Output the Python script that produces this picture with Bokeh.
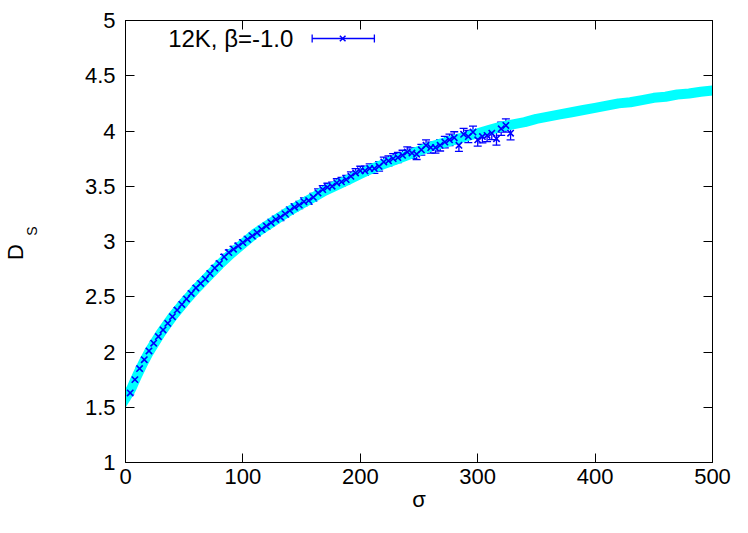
import json
from bokeh.plotting import figure
from bokeh.models import (ColumnDataSource, Whisker, TeeHead, LinearAxis, Label,
                          Range1d, FixedTicker, PrintfTickFormatter, CustomJSTickFormatter)
from bokeh.embed import file_html
from bokeh.resources import INLINE

# measured points: sigma, D_S and its error
sigma = [4, 8, 12, 16, 20, 24, 28, 32, 36, 40,
         44, 48, 52, 56, 60, 64, 68, 72, 76, 80,
         84, 88, 92, 96, 100, 104, 108, 112, 116, 120,
         124, 128, 132, 136, 140, 144, 148, 152, 156, 160,
         164, 168, 172, 176, 180, 184, 188, 192, 196, 200,
         204, 208, 212, 216, 220, 224, 228, 232, 236, 240,
         244, 248, 252, 256, 260, 264, 268, 272, 276, 280,
         284, 288, 292, 296, 300, 304, 308, 312, 316, 320,
         324, 328]
ds = [1.63, 1.75, 1.85, 1.93, 2.01, 2.08, 2.14, 2.20, 2.26, 2.32,
      2.38, 2.43, 2.48, 2.53, 2.58, 2.62, 2.66, 2.71, 2.76, 2.80,
      2.86, 2.90, 2.93, 2.96, 2.99, 3.02, 3.05, 3.08, 3.11, 3.14,
      3.17, 3.20, 3.22, 3.25, 3.28, 3.31, 3.33, 3.36, 3.37, 3.40,
      3.44, 3.47, 3.49, 3.50, 3.53, 3.54, 3.56, 3.59, 3.62, 3.64,
      3.64, 3.66, 3.66, 3.68, 3.72, 3.73, 3.75, 3.76, 3.78, 3.81,
      3.80, 3.79, 3.83, 3.87, 3.85, 3.85, 3.87, 3.90, 3.92, 3.94,
      3.87, 3.97, 3.95, 3.99, 3.92, 3.95, 3.96, 3.98, 3.93, 4.02,
      4.05, 3.98]
ds_err = [0.012, 0.012, 0.013, 0.014, 0.014, 0.015, 0.015, 0.016, 0.016, 0.017,
          0.018, 0.018, 0.019, 0.019, 0.020, 0.021, 0.021, 0.022, 0.022, 0.023,
          0.024, 0.024, 0.025, 0.025, 0.026, 0.027, 0.027, 0.028, 0.028, 0.029,
          0.030, 0.030, 0.031, 0.031, 0.032, 0.033, 0.033, 0.034, 0.034, 0.035,
          0.036, 0.036, 0.037, 0.037, 0.038, 0.039, 0.039, 0.040, 0.040, 0.041,
          0.042, 0.042, 0.043, 0.043, 0.044, 0.045, 0.045, 0.046, 0.046, 0.047,
          0.048, 0.048, 0.049, 0.049, 0.050, 0.051, 0.051, 0.052, 0.052, 0.053,
          0.054, 0.054, 0.055, 0.055, 0.056, 0.057, 0.057, 0.058, 0.058, 0.059,
          0.060, 0.060]

# cyan reference curve
fit_sigma = [-3, 0, 5, 10, 15, 20, 30, 40, 50, 60, 70, 80, 90, 100,
             110, 120, 130, 140, 150, 160, 170, 180, 190, 200,
             210, 220, 230, 240, 250, 260, 270, 280, 290, 300,
             310, 320, 330, 340, 350, 360, 370, 380, 390, 400,
             410, 420, 430, 440, 450, 460, 470, 480, 490, 500, 503]
fit_ds = [1.53, 1.58, 1.67, 1.79, 1.90, 2.00, 2.17, 2.32, 2.45, 2.57, 2.68, 2.79, 2.89, 2.98,
          3.07, 3.14, 3.21, 3.28, 3.34, 3.40, 3.46, 3.51, 3.56, 3.61,
          3.66, 3.70, 3.74, 3.78, 3.82, 3.86, 3.89, 3.92, 3.95, 3.98,
          4.01, 4.04, 4.06, 4.08, 4.11, 4.13, 4.15, 4.17, 4.19, 4.21,
          4.23, 4.25, 4.26, 4.28, 4.30, 4.31, 4.33, 4.34, 4.355, 4.367, 4.37]

x_ticks = [0, 100, 200, 300, 400, 500]
y_ticks = [1, 1.5, 2, 2.5, 3, 3.5, 4, 4.5, 5]
series_label = "12K, β=-1.0"
x_title = "σ"

FONT = "Liberation Sans"
BLUE = "#0000ff"
CYAN = "#00ffff"

p = figure(width=732, height=517, x_range=Range1d(0, 500), y_range=Range1d(1, 5),
           output_backend="svg", toolbar_location=None,
           min_border_left=122, min_border_right=20, min_border_top=20, min_border_bottom=55)
p.background_fill_color = "white"
p.border_fill_color = "white"
p.outline_line_color = "black"
p.outline_line_width = 1
p.grid.visible = False

p.xaxis.ticker = FixedTicker(ticks=x_ticks)
p.yaxis.ticker = FixedTicker(ticks=y_ticks)
p.yaxis.formatter = PrintfTickFormatter(format="%g")
p.xaxis.major_label_standoff = 6
p.yaxis.major_label_standoff = 10

for ax in [p.xaxis[0], p.yaxis[0]]:
    ax.major_tick_in = 9
    ax.major_tick_out = 0
    ax.minor_tick_line_color = None
    ax.axis_line_color = "black"
    ax.major_tick_line_color = "black"
    ax.major_label_text_font = FONT
    ax.major_label_text_font_size = "22px"
    ax.major_label_text_color = "black"

p.xaxis.axis_label = x_title
p.xaxis.axis_label_standoff = 0
p.xaxis.axis_label_text_font = FONT
p.xaxis.axis_label_text_font_size = "22px"
p.xaxis.axis_label_text_font_style = "normal"
p.xaxis.axis_label_text_color = "black"

# mirrored ticks on top and right
top = LinearAxis(ticker=FixedTicker(ticks=x_ticks))
right = LinearAxis(ticker=FixedTicker(ticks=y_ticks))
for ax in [top, right]:
    ax.major_tick_in = 9
    ax.major_tick_out = 0
    ax.minor_tick_line_color = None
    ax.major_label_text_font_size = "1px"
    ax.major_label_text_color = None
    ax.major_label_standoff = 0
    ax.axis_line_color = "black"
p.add_layout(top, "above")
p.add_layout(right, "right")


# y title "D" with subscript "S": one bare axis per piece, label placed at a tick
def title_axis(y, text, size, standoff):
    ax = LinearAxis(ticker=FixedTicker(ticks=[y]),
                    formatter=CustomJSTickFormatter(code="return " + json.dumps(text)))
    ax.axis_line_color = None
    ax.major_tick_line_color = None
    ax.minor_tick_line_color = None
    ax.major_tick_in = 0
    ax.major_tick_out = 0
    ax.major_label_orientation = "parallel"
    ax.major_label_standoff = standoff
    ax.major_label_text_font = FONT
    ax.major_label_text_font_size = size
    ax.major_label_text_color = "black"
    p.add_layout(ax, "left")


title_axis(3.095, "S", "14px", 41)
title_axis(2.905, "D", "22px", -7)

# cyan curve
p.line(fit_sigma, fit_ds, line_color=CYAN, line_width=10, line_cap="round")

# blue points with error bars
lo = [d - e for d, e in zip(ds, ds_err)]
hi = [d + e for d, e in zip(ds, ds_err)]
src = ColumnDataSource(data=dict(x=sigma, y=ds, lo=lo, hi=hi))
p.add_layout(Whisker(source=src, base="x", lower="lo", upper="hi", line_color=BLUE,
                     line_width=1.3,
                     upper_head=TeeHead(size=8, line_color=BLUE, line_width=1.3),
                     lower_head=TeeHead(size=8, line_color=BLUE, line_width=1.3)))
p.scatter("x", "y", source=src, marker="x", size=9, line_color=BLUE, line_width=1.6)

# key (gnuplot style: text left, sample right)
key_y = 4.837
key_src = ColumnDataSource(data=dict(y=[key_y], lo=[159], hi=[212], x=[185]))
p.add_layout(Whisker(source=key_src, base="y", lower="lo", upper="hi", dimension="width",
                     line_color=BLUE, line_width=1.3,
                     upper_head=TeeHead(size=8, line_color=BLUE, line_width=1.3),
                     lower_head=TeeHead(size=8, line_color=BLUE, line_width=1.3)))
p.scatter("x", "y", source=key_src, marker="x", size=8, line_color=BLUE, line_width=1.5)
p.add_layout(Label(x=143, y=key_y, text=series_label, text_align="right",
                   text_baseline="middle", text_font=FONT, text_font_size="24px",
                   text_color="black"))

open("out.html", "w").write(file_html(p, INLINE))
